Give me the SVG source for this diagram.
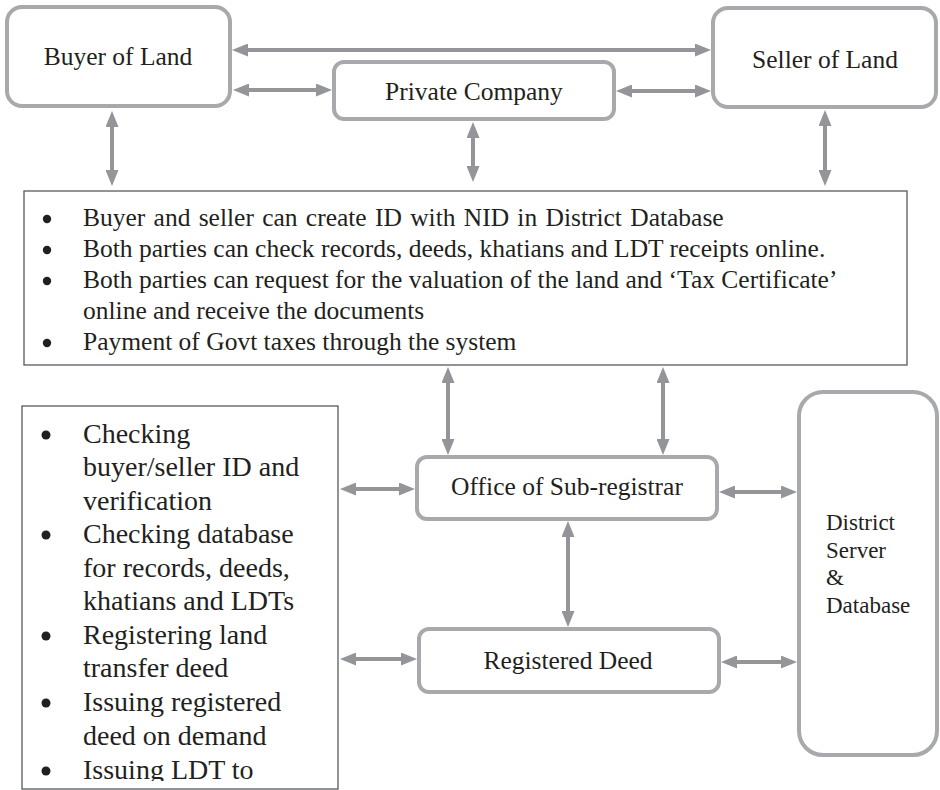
<svg xmlns="http://www.w3.org/2000/svg" width="940" height="790" viewBox="0 0 940 790" font-family="'Liberation Serif', 'Times New Roman', serif">
<style>
.node{fill:#fff;stroke:#a7a9ac;stroke-width:4}
.tbox{fill:#fff;stroke:#58595b;stroke-width:1.3}
.lbl{font-size:25.5px;fill:#231f20;text-anchor:middle}
.big{font-size:25.5px;fill:#231f20}
.lft{font-size:28px;fill:#231f20}
.dst{font-size:23px;fill:#231f20}
.dot{fill:#231f20}
.arr{stroke:#939598;stroke-width:4;fill:none;marker-start:url(#ah);marker-end:url(#ah)}
</style>
<defs>
<marker id="ah" viewBox="0 0 16 13" markerWidth="16" markerHeight="13" refX="1" refY="6.5" orient="auto-start-reverse" markerUnits="userSpaceOnUse">
<path d="M0,0 L16,6.5 L0,13 z" fill="#939598"/>
</marker>
<clipPath id="lclip"><rect x="0" y="400" width="400" height="381"/></clipPath>
</defs>
<rect width="940" height="790" fill="#fff"/>

<g id="buyer">
<rect class="node" x="7" y="7" width="223" height="99" rx="15"/>
<text class="lbl" x="118" y="65">Buyer of Land</text>
</g>
<g id="seller">
<rect class="node" x="713" y="8" width="223" height="99" rx="15"/>
<text class="lbl" x="825" y="68">Seller of Land</text>
</g>
<g id="private">
<rect class="node" x="334" y="62" width="280" height="57" rx="10"/>
<text class="lbl" x="474" y="100">Private Company</text>
</g>

<g id="online-services">
<rect class="tbox" x="24" y="191" width="883" height="174"/>
<circle class="dot" cx="47" cy="219" r="4.2"/>
<text class="big" x="83" y="226" word-spacing="1.9">Buyer and seller can create ID with NID in District Database</text>
<circle class="dot" cx="47" cy="250" r="4.2"/>
<text class="big" x="83" y="257">Both parties can check records, deeds, khatians and LDT receipts online.</text>
<circle class="dot" cx="47" cy="281" r="4.2"/>
<text class="big" x="83" y="288">Both parties can request for the valuation of the land and ‘Tax Certificate’</text>
<text class="big" x="83" y="319">online and receive the documents</text>
<circle class="dot" cx="47" cy="343" r="4.2"/>
<text class="big" x="83" y="350">Payment of Govt taxes through the system</text>
</g>

<g id="subregistrar-tasks">
<rect class="tbox" x="22" y="406" width="316" height="383"/>
<g clip-path="url(#lclip)">
<circle class="dot" cx="46" cy="435" r="4.5"/>
<text class="lft" x="83" y="443">Checking</text>
<text class="lft" x="83" y="476">buyer/seller ID and</text>
<text class="lft" x="83" y="510">verification</text>
<circle class="dot" cx="46" cy="535" r="4.5"/>
<text class="lft" x="83" y="543">Checking database</text>
<text class="lft" x="83" y="577">for records, deeds,</text>
<text class="lft" x="83" y="610">khatians and LDTs</text>
<circle class="dot" cx="46" cy="636" r="4.5"/>
<text class="lft" x="83" y="644">Registering land</text>
<text class="lft" x="83" y="677">transfer deed</text>
<circle class="dot" cx="46" cy="703" r="4.5"/>
<text class="lft" x="83" y="711">Issuing registered</text>
<text class="lft" x="83" y="745">deed on demand</text>
<circle class="dot" cx="46" cy="771" r="4.5"/>
<text class="lft" x="83" y="779">Issuing LDT to</text>
</g>
</g>

<g id="office">
<rect class="node" x="417" y="457" width="300" height="62" rx="10"/>
<text class="lbl" x="567" y="495">Office of Sub-registrar</text>
</g>
<g id="deed">
<rect class="node" x="419" y="629" width="300" height="63" rx="10"/>
<text class="lbl" x="568" y="669">Registered Deed</text>
</g>
<g id="district">
<rect class="node" x="799" y="392" width="138" height="363" rx="24"/>
<text class="dst" x="826" y="530">District</text>
<text class="dst" x="826" y="558">Server</text>
<text class="dst" x="826" y="585">&amp;</text>
<text class="dst" x="826" y="613">Database</text>
</g>

<g id="connectors">
<line class="arr" x1="247" y1="50" x2="696" y2="50"/>
<line class="arr" x1="248" y1="90" x2="317" y2="90"/>
<line class="arr" x1="631" y1="91" x2="696" y2="91"/>
<line class="arr" x1="112" y1="126" x2="112" y2="171"/>
<line class="arr" x1="473" y1="137" x2="473" y2="167"/>
<line class="arr" x1="825" y1="125" x2="825" y2="171"/>
<line class="arr" x1="448" y1="382" x2="448" y2="440"/>
<line class="arr" x1="663" y1="382" x2="663" y2="440"/>
<line class="arr" x1="355" y1="489" x2="400" y2="489"/>
<line class="arr" x1="734" y1="492" x2="782" y2="492"/>
<line class="arr" x1="568" y1="536" x2="568" y2="612"/>
<line class="arr" x1="355" y1="659" x2="402" y2="659"/>
<line class="arr" x1="736" y1="662" x2="782" y2="662"/>
</g>
</svg>
